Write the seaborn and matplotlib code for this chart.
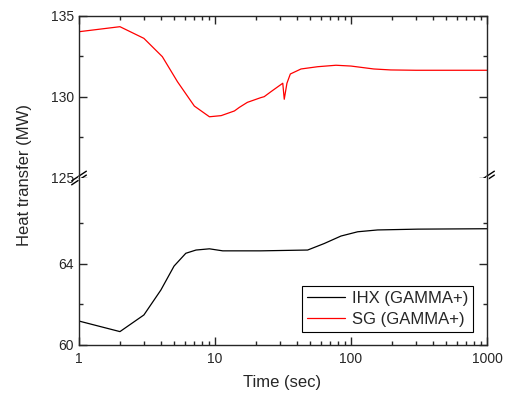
import matplotlib
matplotlib.use("Agg")
import matplotlib.pyplot as plt
from matplotlib.ticker import FixedLocator, NullFormatter
import seaborn as sns
import pandas as pd

# SG (GAMMA+) heat transfer, upper panel
sg_time = [1, 2.0, 3.0, 4.1, 5.3, 7.05, 9.1, 11.1, 13.9, 15.1, 17.3, 21.7, 23.0,
           25.8, 31.5, 32.3, 33.8, 35.8, 42.9, 56.9, 77.6, 100, 147, 196, 300, 500, 1000]
sg_heat = [134.03, 134.34, 133.62, 132.49, 130.94, 129.44, 128.78, 128.85, 129.14,
           129.36, 129.67, 129.96, 130.02, 130.33, 130.85, 129.86, 130.85, 131.42,
           131.73, 131.87, 131.96, 131.91, 131.73, 131.67, 131.65, 131.65, 131.65]

# IHX (GAMMA+) heat transfer, lower panel
ihx_time = [1, 2.0, 3.0, 4.0, 5.0, 6.1, 7.25, 9.1, 11.4, 21.7, 48, 63.5, 84.4,
            112, 157, 310, 1000]
ihx_heat = [61.18, 60.66, 61.48, 62.71, 63.89, 64.52, 64.68, 64.74, 64.64, 64.64,
            64.68, 65.0, 65.37, 65.58, 65.67, 65.71, 65.73]

sg = pd.DataFrame({"time": sg_time, "heat": sg_heat})
ihx = pd.DataFrame({"time": ihx_time, "heat": ihx_heat})

sns.set_style("ticks")
plt.rcParams["font.family"] = ["Liberation Sans", "DejaVu Sans"]
plt.rcParams["font.size"] = 10

fig = plt.figure(figsize=(5.07, 3.95), dpi=100)
left, width = 79 / 507, 408 / 507
ax_top = fig.add_axes([left, 1 - 178 / 395, width, 162 / 395])
ax_bot = fig.add_axes([left, 1 - 345 / 395, width, 167 / 395])

sns.lineplot(data=sg, x="time", y="heat", ax=ax_top, color="red", lw=0.9,
             label="SG (GAMMA+)")
sns.lineplot(data=ihx, x="time", y="heat", ax=ax_bot, color="black", lw=0.9,
             label="IHX (GAMMA+)")

for ax in (ax_top, ax_bot):
    ax.set_xscale("log")
    ax.set_xlim(1, 1000)
    ax.tick_params(which="both", direction="in", top=True, right=True,
                   labelsize=10, width=1)
    ax.tick_params(which="major", length=6)
    ax.tick_params(which="minor", length=3)
    for s in ax.spines.values():
        s.set_linewidth(1)
    ax.set_xlabel("")
    ax.set_ylabel("")

ax_top.set_ylim(125, 135)
ax_top.yaxis.set_major_locator(FixedLocator([125, 130, 135]))
ax_top.yaxis.set_minor_locator(FixedLocator([127.5, 132.5]))
ax_top.spines["bottom"].set_visible(False)
ax_top.tick_params(axis="x", which="both", bottom=False, labelbottom=False)

ax_bot.set_ylim(60, 68.23)
ax_bot.yaxis.set_major_locator(FixedLocator([60, 64]))
ax_bot.yaxis.set_minor_locator(FixedLocator([62, 66]))
ax_bot.yaxis.set_minor_formatter(NullFormatter())
ax_bot.spines["top"].set_visible(False)
ax_bot.tick_params(axis="x", which="both", top=False)
ax_bot.set_xticks([1, 10, 100, 1000])
ax_bot.set_xticklabels(["1", "10", "100", "1000"])
ax_bot.tick_params(axis="x", which="major", pad=5)

# break marks on both spines
for xb in (0, 1):
    for dy in (-0.012, 0.012):
        ax_top.plot([xb - 0.018, xb + 0.018], [dy - 0.03, dy + 0.03],
                    transform=ax_top.transAxes, color="black", lw=1, clip_on=False)
    ax_top.plot([xb, xb], [-0.008, 0.008], transform=ax_top.transAxes,
                color="white", lw=2, clip_on=False)

fig.text(282 / 507, 1 - 383 / 395, "Time (sec)",
         ha="center", va="center", fontsize=12)
fig.text(25 / 507, 1 - 175 / 395, "Heat transfer (MW)", rotation=90,
         ha="center", va="center", fontsize=12)

h1, l1 = ax_bot.get_legend_handles_labels()
h2, l2 = ax_top.get_legend_handles_labels()
ax_top.get_legend().remove()
leg = ax_bot.legend(h1 + h2, l1 + l2, loc="lower right",
                    bbox_to_anchor=(0.966, 0.078), frameon=True, fancybox=False,
                    edgecolor="black", framealpha=1, fontsize=12,
                    handlelength=2.3, borderpad=0.3, labelspacing=0.35,
                    handletextpad=0.4, borderaxespad=0)
leg.get_frame().set_linewidth(0.8)

fig.savefig("out.png", dpi=100)
